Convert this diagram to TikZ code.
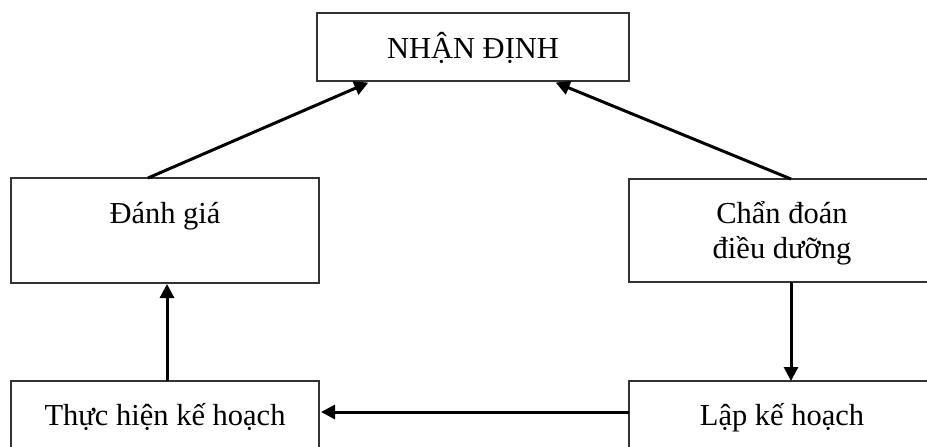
\documentclass[tikz,border=0pt]{standalone}
\usepackage{fontspec}
\setmainfont{Liberation Serif}
\usetikzlibrary{arrows.meta}
\begin{document}
\begin{tikzpicture}[x=1pt,y=-1pt,
  box/.style={draw=black!80, line width=1.3pt, rectangle, inner sep=0pt, outer sep=0pt},
  lbl/.style={anchor=base, inner sep=0pt, font=\fontsize{30.5}{35}\selectfont},
  conn/.style={draw=black, line width=3pt, -{Triangle[length=14pt,width=14pt]}}]
\useasboundingbox (0,0) rectangle (927,447);
\fill[white] (0,0) rectangle (927,447);
\clip (0,0) rectangle (927,447);
\node[box, minimum width=312pt, minimum height=68pt] (nd) at (473,47) {};
\node[box, minimum width=308pt, minimum height=105pt] (dg) at (165,230.5) {};
\node[box, minimum width=306pt, minimum height=103pt] (cd) at (782,230.5) {};
\node[box, minimum width=308pt, minimum height=80pt] (th) at (165,421) {};
\node[box, minimum width=306pt, minimum height=80pt] (lk) at (782,421) {};
\node[lbl] (tnd) at (473,58) {NHẬN ĐỊNH};
\node[lbl] (tdg) at (165,223) {Đánh giá};
\node[lbl] (tcd1) at (782,223) {Chẩn đoán};
\node[lbl] (tcd2) at (782,258) {điều dưỡng};
\node[lbl] (tth) at (165,425) {Thực hiện kế hoạch};
\node[lbl] (tlk) at (782,425) {Lập kế hoạch};
\draw[conn, shorten >=4pt] ([xshift=-17pt]dg.north) -- ([xshift=-101pt]nd.south);
\draw[conn, shorten >=4pt] ([xshift=9pt]cd.north) -- ([xshift=79pt]nd.south);
\draw[conn] ([xshift=9pt]cd.south) -- ([xshift=9pt]lk.north);
\draw[conn, shorten >=2pt] ([yshift=-31pt]lk.north west) -- ([yshift=-31pt]th.north east);
\draw[conn, shorten >=1pt] ([xshift=2pt]th.north) -- ([xshift=2pt]dg.south);
\end{tikzpicture}
\end{document}
